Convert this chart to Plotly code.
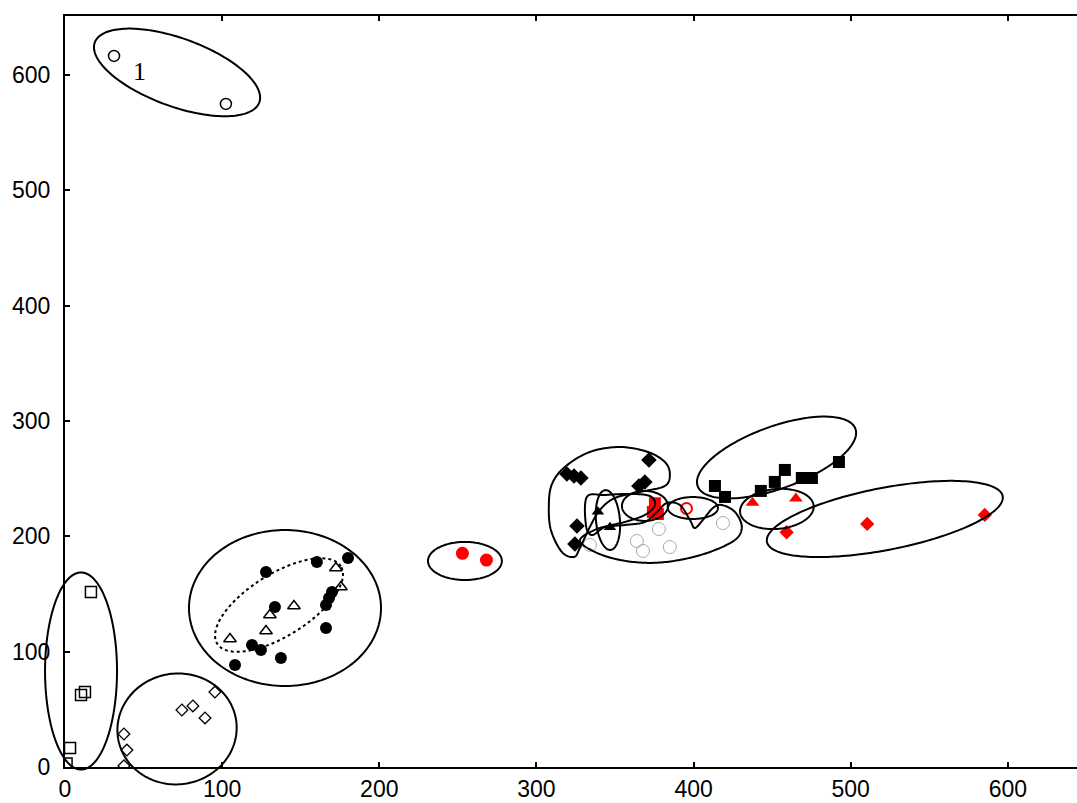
import numpy as np
import plotly.graph_objects as go

# ---------------- data ----------------
X_RANGE = [0, 644]
Y_RANGE = [0, 651]
X_TICKS = [0, 100, 200, 300, 400, 500, 600]
Y_TICKS = [0, 100, 200, 300, 400, 500, 600]

open_circle_x = [31.2, 102.4]
open_circle_y = [616.4, 574.8]

open_square_x = [1.0, 3.2, 10.2, 12.7, 16.5]
open_square_y = [3.0, 16.5, 62.4, 65.0, 151.7]

open_diamond_x = [37.5, 39.4, 37.5, 74.4, 81.4, 89.1, 95.4]
open_diamond_y = [28.6, 14.7, 1.0, 49.4, 52.9, 42.5, 65.0]

black_circle_x = [127.9, 160.3, 180.1, 133.6, 169.9, 168.0, 166.1, 166.1, 119.0, 124.7, 137.4, 108.2]
black_circle_y = [169.0, 177.7, 181.2, 138.7, 151.7, 146.5, 140.4, 120.5, 105.8, 101.4, 94.5, 88.4]

open_triangle_x = [172.4, 175.6, 145.7, 130.4, 127.9, 105.0]
open_triangle_y = [172.5, 156.0, 139.6, 131.8, 117.9, 111.0]

red_circle_x = [252.9, 268.2]
red_circle_y = [185.2, 179.4]

black_diamond_x = [319.4, 323.9, 328.3, 371.6, 365.2, 369.0, 325.8, 324.5]
black_diamond_y = [254.0, 252.3, 250.5, 266.1, 243.6, 247.1, 208.9, 193.3]

black_triangle_x = [339.1, 346.8]
black_triangle_y = [221.3, 207.8]

red_square_x = [375.4, 374.1, 377.3]
red_square_y = [228.6, 221.1, 219.3]

red_open_circle_x = [395.5]
red_open_circle_y = [224.1]

dotted_circle_x = [334.0, 363.9, 367.8, 377.9, 384.9, 418.7]
dotted_circle_y = [192.5, 195.9, 187.3, 206.3, 190.7, 211.5]

black_square_x = [413.6, 420.0, 442.8, 451.7, 458.1, 468.9, 475.3, 492.5]
black_square_y = [243.6, 234.1, 239.3, 247.1, 257.5, 250.5, 250.5, 264.4]

red_triangle_x = [437.5, 465.1]
red_triangle_y = [229.1, 232.8]

red_diamond_x = [459.2, 510.5, 585.3]
red_diamond_y = [203.5, 210.7, 218.5]

label_text = "1"
label_x, label_y = 47.1, 602.5

# ellipses: (cx, cy, rx [x units], ry [y units], screen angle deg, dash)
ellipses = [
    (71.3, 602.1, 55.7, 29.5, -20, "solid"),
    (10.2, 83.2, 22.9, 85.4, 0, "solid"),
    (71.3, 33.0, 38.0, 48.0, 8, "solid"),
    (140.0, 137.8, 61.1, 67.6, 0, "solid"),
    (136.2, 140.4, 46.4, 26.9, 32, "dot"),
    (254.5, 178.6, 23.5, 16.5, 0, "solid"),
    (452.8, 268.3, 53.4, 26.9, 20, "solid"),
    (453.0, 223.7, 23.5, 17.3, 5, "solid"),
    (521.7, 215.0, 76.4, 26.9, 11, "solid"),
    (345.5, 214.1, 7.6, 26.0, 5, "solid"),
    (369.0, 226.3, 14.6, 13.0, 0, "solid"),
    (399.6, 224.5, 15.9, 9.5, 0, "solid"),
]

# free-form closed outlines (data coords)
blob_diamond_x = [307.9, 309.9, 318.1, 334.0, 353.1, 370.9, 381.7, 384.9, 381.7, 365.8, 349.9, 340.4, 334.0, 327.7, 323.9, 316.2, 309.2]
blob_diamond_y = [227.1, 245.3, 260.1, 273.1, 277.4, 273.1, 264.4, 254.0, 243.6, 238.4, 233.2, 222.8, 208.1, 189.9, 182.1, 186.4, 205.5]

blob_lower_x = [327.7, 340.4, 356.3, 369.0, 376.7, 383.1, 391.3, 397.7, 400.8, 405.9, 412.3, 418.0, 426.3, 430.7, 426.3, 410.4, 391.3, 372.2, 353.1, 337.2]
blob_lower_y = [196.8, 207.2, 209.8, 212.4, 221.1, 228.9, 227.1, 214.1, 207.2, 214.1, 224.5, 227.1, 221.1, 208.1, 196.8, 186.4, 179.5, 176.9, 179.5, 186.4]

blob_tri_x = [332.1, 343.6, 359.5, 372.2, 375.4, 369.0, 356.3, 343.6, 335.3, 331.5]
blob_tri_y = [234.1, 235.8, 236.7, 234.9, 227.1, 218.5, 212.4, 208.1, 201.1, 209.8]

# ---------------- layout geometry ----------------
W, H = 1077, 803
MARGIN = dict(l=65, r=0, t=16, b=36)
PW = W - MARGIN["l"] - MARGIN["r"]
PH = H - MARGIN["t"] - MARGIN["b"]
SX = PW / (X_RANGE[1] - X_RANGE[0])
SY = PH / (Y_RANGE[1] - Y_RANGE[0])


def to_paper(x, y):
    x = np.asarray(x, float)
    y = np.asarray(y, float)
    return ((x - X_RANGE[0]) / (X_RANGE[1] - X_RANGE[0]),
            (y - Y_RANGE[0]) / (Y_RANGE[1] - Y_RANGE[0]))


def path_from(x, y):
    px, py = to_paper(x, y)
    pts = [f"{a:.5f},{b:.5f}" for a, b in zip(px, py)]
    return "M " + " L ".join(pts) + " Z"


def ellipse_xy(cx, cy, rx, ry, ang, n=180):
    t = np.linspace(0, 2 * np.pi, n, endpoint=False)
    a, b = rx * SX, ry * SY
    u, v = a * np.cos(t), b * np.sin(t)
    th = np.radians(ang)
    du = u * np.cos(th) - v * np.sin(th)
    dv = u * np.sin(th) + v * np.cos(th)
    return cx + du / SX, cy + dv / SY


def spline_xy(xs, ys, per=16):
    # closed Catmull-Rom in screen space
    u = np.asarray(xs) * SX
    v = np.asarray(ys) * SY
    n = len(u)
    ox, oy = [], []
    for i in range(n):
        p0 = np.array([u[i - 1], v[i - 1]])
        p1 = np.array([u[i], v[i]])
        p2 = np.array([u[(i + 1) % n], v[(i + 1) % n]])
        p3 = np.array([u[(i + 2) % n], v[(i + 2) % n]])
        for t in np.linspace(0, 1, per, endpoint=False):
            t2, t3 = t * t, t * t * t
            p = 0.5 * ((2 * p1) + (-p0 + p2) * t + (2 * p0 - 5 * p1 + 4 * p2 - p3) * t2
                       + (-p0 + 3 * p1 - 3 * p2 + p3) * t3)
            ox.append(p[0] / SX)
            oy.append(p[1] / SY)
    return ox, oy


fig = go.Figure()


def add_pts(x, y, symbol, size, color, lw=1.5, lcolor=None):
    fig.add_trace(go.Scatter(
        x=x, y=y, mode="markers", showlegend=False, hoverinfo="skip",
        marker=dict(symbol=symbol, size=size, color=color,
                    line=dict(width=lw, color=lcolor if lcolor else color))))


add_pts(dotted_circle_x, dotted_circle_y, "circle-open", 13, "#a0a0a0", 0.9)
add_pts(open_circle_x, open_circle_y, "circle-open", 11, "black", 1.5)
add_pts(open_square_x, open_square_y, "square-open", 11, "black", 1.5)
add_pts(open_diamond_x, open_diamond_y, "diamond-open", 9, "black", 1.3)
add_pts(black_circle_x, black_circle_y, "circle", 12, "black", 0)
add_pts(open_triangle_x, open_triangle_y, "triangle-up-open", 11, "black", 1.5)
add_pts(red_circle_x, red_circle_y, "circle", 13, "red", 0)
add_pts(black_diamond_x, black_diamond_y, "diamond", 12, "black", 0)
add_pts(black_triangle_x, black_triangle_y, "triangle-up", 11, "black", 0)
add_pts(red_square_x, red_square_y, "square", 12, "red", 0)
add_pts(red_open_circle_x, red_open_circle_y, "circle-open", 11, "red", 2)
add_pts(black_square_x, black_square_y, "square", 12, "black", 0)
add_pts(red_triangle_x, red_triangle_y, "triangle-up", 12, "red", 0)
add_pts(red_diamond_x, red_diamond_y, "diamond", 11, "red", 0)

shapes = []
for cx, cy, rx, ry, ang, dash in ellipses:
    ex, ey = ellipse_xy(cx, cy, rx, ry, ang)
    shapes.append(dict(type="path", xref="paper", yref="paper", path=path_from(ex, ey),
                       line=dict(color="black", width=2, dash=dash), layer="above"))
for bx, by in [(blob_diamond_x, blob_diamond_y), (blob_lower_x, blob_lower_y), (blob_tri_x, blob_tri_y)]:
    sxs, sys_ = spline_xy(bx, by)
    shapes.append(dict(type="path", xref="paper", yref="paper", path=path_from(sxs, sys_),
                       line=dict(color="black", width=2), layer="above"))

fig.update_layout(
    width=W, height=H, margin=MARGIN,
    paper_bgcolor="white", plot_bgcolor="white",
    shapes=shapes,
    annotations=[dict(x=label_x, y=label_y, xref="x", yref="y", text=label_text, showarrow=False,
                      font=dict(family="Liberation Serif", size=26, color="black"))],
    xaxis=dict(range=X_RANGE, tickvals=X_TICKS, ticks="inside", ticklen=5, tickwidth=1.5,
               showline=True, linecolor="black", linewidth=2, mirror="ticks", showgrid=False,
               zeroline=False, tickfont=dict(family="Liberation Sans", size=23, color="black"),
               tickcolor="black"),
    yaxis=dict(range=Y_RANGE, tickvals=Y_TICKS, ticks="inside", ticklen=5, tickwidth=1.5,
               showline=True, linecolor="black", linewidth=2, mirror=False, showgrid=False,
               zeroline=False, tickfont=dict(family="Liberation Sans", size=23, color="black"),
               tickcolor="black", ticklabelstandoff=8),
    font=dict(family="Liberation Sans"),
)

fig.write_html("out.html")
